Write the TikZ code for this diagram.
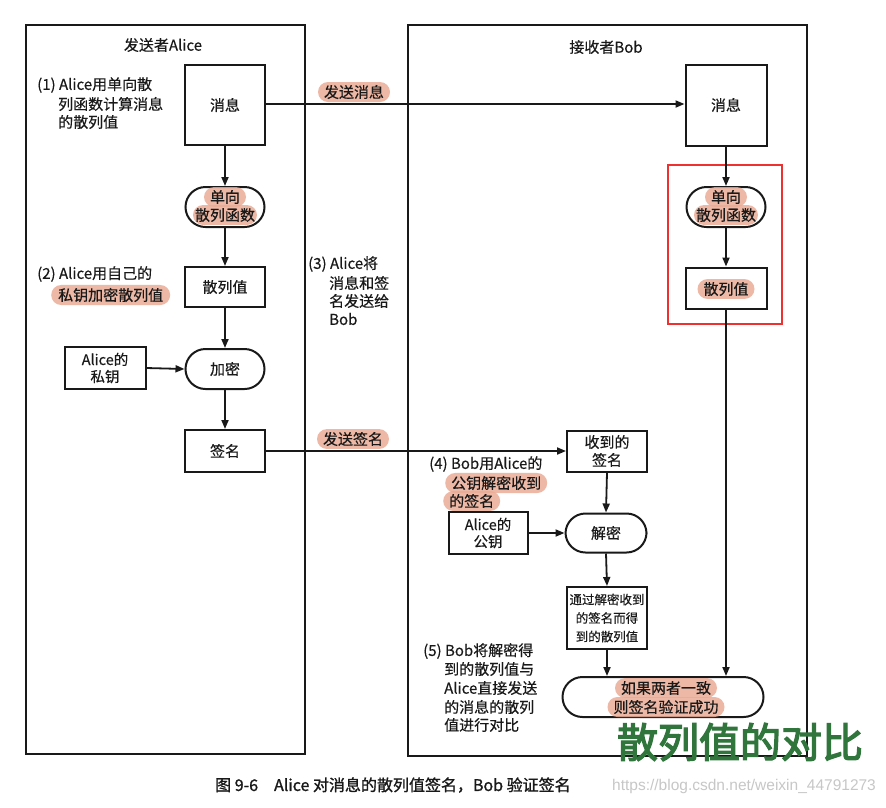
\documentclass[tikz,border=0pt]{standalone}
\usepackage{fontspec}
\setmainfont[FakeBold=0.4]{Noto Sans CJK SC}
\newfontfamily\hwfont[FakeBold=3]{Noto Sans CJK SC}
\newfontfamily\capfont[FakeBold=1.2]{Noto Sans CJK SC}
\newfontfamily\wmfont{Liberation Sans}
\usetikzlibrary{arrows.meta}
\definecolor{hl}{RGB}{234,172,150}
\definecolor{hw}{RGB}{48,118,60}
\definecolor{redbox}{RGB}{238,48,48}
\definecolor{ink}{RGB}{25,25,25}
\begin{document}
\begin{tikzpicture}[x=1pt,y=-1pt, font=\fontsize{15}{18}\selectfont, text=ink,
  frame/.style={draw=ink, line width=2pt, inner sep=0, anchor=north west},
  box/.style={draw=ink, line width=2pt, minimum width=80pt, inner sep=0, align=center},
  pill/.style={draw=ink, line width=2pt, rounded corners=20pt, minimum width=79pt, minimum height=40pt, inner sep=0, align=center},
  hlt/.style={fill=hl, fill opacity=0.85, text opacity=1, rounded corners=10pt, inner xsep=6pt, inner ysep=3pt},
  conn/.style={draw=ink, line width=1.8pt},
  arr/.style={conn, -{Triangle[length=9pt,width=7pt]}},
  nl/.style={anchor=west, inner sep=0}]
\useasboundingbox (0,0) rectangle (886,807);
\fill[white] (0,0) rectangle (886,807);

% frames
\node[frame, minimum width=279pt, minimum height=729pt] (fA) at (25,24) {};
\node[frame, minimum width=399pt, minimum height=731pt] (fB) at (407,24) {};
\node (tA) at (163,45) {发送者Alice};
\node (tB) at (606,47) {接收者Bob};

% Alice side
\node[box, minimum height=80pt] (mA) at (225,105) {消息};
\node[pill] (hA) at (225,207) {};
\node[hlt] (hA1) at (225,197) {单向};
\node[hlt, inner xsep=2pt] (hA2) at (225,215) {散列函数};
\node[box, minimum height=40pt] (vA) at (225,287) {散列值};
\node[box, minimum width=81pt, minimum height=42pt, font=\fontsize{14.5}{17}\selectfont] (kA) at (105,368) {Alice的\\私钥};
\node[pill] (eA) at (225,369) {加密};
\node[box, minimum height=42pt] (sA) at (225,451) {签名};

\draw[arr] (mA.south) -- (hA.north);
\draw[arr] (hA.south) -- (vA.north);
\draw[arr] (vA.south) -- (eA.north);
\draw[arr] (kA.east) -- (eA.west);
\draw[arr] (eA.south) -- (sA.north);

% notes left
\node[nl] (n1a) at (37,85) {(1) Alice用单向散};
\node[nl] (n1b) at (58,104) {列函数计算消息};
\node[nl] (n1c) at (58,122) {的散列值};
\node[nl] (n2a) at (37,274) {(2) Alice用自己的};
\node[hlt, anchor=west, inner xsep=7pt] (n2b) at (51,295) {私钥加密散列值};

% middle
\node[nl] (n3a) at (308,264) {(3) Alice将};
\node[nl] (n3b) at (329,283) {消息和签};
\node[nl] (n3c) at (329,301) {名发送给};
\node[nl] (n3d) at (329,319) {Bob};

% Bob side
\node[box, minimum width=81pt, minimum height=81pt] (mB) at (726,105) {消息};
\node[pill] (hB) at (726,207) {};
\node[hlt] (hB1) at (726,197) {单向};
\node[hlt, inner xsep=2pt] (hB2) at (726,215) {散列函数};
\node[box, minimum width=81pt, minimum height=41pt] (vB) at (726,288) {};
\node[hlt] (vB1) at (726,289) {散列值};
\node[draw=redbox, line width=2pt, minimum width=114pt, minimum height=159pt, inner sep=0] (rr) at (725,244.5) {};

\node[box, minimum height=41pt] (rB) at (607,451) {收到的\\签名};
\node[box, minimum width=79pt, minimum height=42pt, font=\fontsize{14.5}{17}\selectfont] (kB) at (488,533) {Alice的\\公钥};
\node[pill, minimum width=81pt, minimum height=39pt] (dB) at (606,533) {解密};
\node[box, minimum height=62pt, font=\fontsize{12.5}{18.5}\selectfont] (gB) at (607,618) {通过解密收到\\的签名而得\\到的散列值};
\node[pill, minimum width=201pt, minimum height=40pt] (cB) at (663,697) {};
\node[hlt] (cB1) at (666,688) {如果两者一致};
\node[hlt] (cB2) at (666,707) {则签名验证成功};

% connectors between parties
\draw[arr] (mA.east |- 0,104) -- (mB.west |- 0,104);
\node[hlt] (l1) at (354,92) {发送消息};
\draw[arr] (sA.east) -- (rB.west);
\node[hlt] (l2) at (353,439) {发送签名};

\draw[arr] (mB.south) -- (hB.north);
\draw[arr] (hB.south) -- (vB.north);
\draw[arr] (vB.south) -- (vB.south |- cB.north);
\draw[arr] (rB.south) -- (dB.north);
\draw[arr] (kB.east) -- (dB.west);
\draw[arr] (dB.south) -- (gB.north);
\draw[arr] (gB.south) -- (gB.south |- cB.north);

% notes right
\node[nl] (n4a) at (429,464) {(4) Bob用Alice的};
\node[hlt, anchor=west] (n4b) at (445,483) {公钥解密收到};
\node[hlt, anchor=west] (n4c) at (443,501) {的签名};
\node[nl] (n5a) at (423,651) {(5) Bob将解密得};
\node[nl] (n5b) at (444,669) {到的散列值与};
\node[nl] (n5c) at (444,688) {Alice直接发送};
\node[nl] (n5d) at (444,707) {的消息的散列};
\node[nl] (n5e) at (444,725) {值进行对比};

% handwriting
\node[text=hw, font=\hwfont\fontsize{41}{41}\selectfont, inner sep=0] (hwn) at (740,742) {散列值的对比};

% caption and watermark
\node[nl, font=\capfont\fontsize{16}{18}\selectfont] (cap) at (215,785) {图 9-6\quad Alice 对消息的散列值签名，Bob 验证签名};
\node[nl, text=black!22, font=\wmfont\fontsize{15.5}{18}\selectfont] (wm) at (612,786) {https://blog.csdn.net/weixin\_44791273};
\end{tikzpicture}
\end{document}
